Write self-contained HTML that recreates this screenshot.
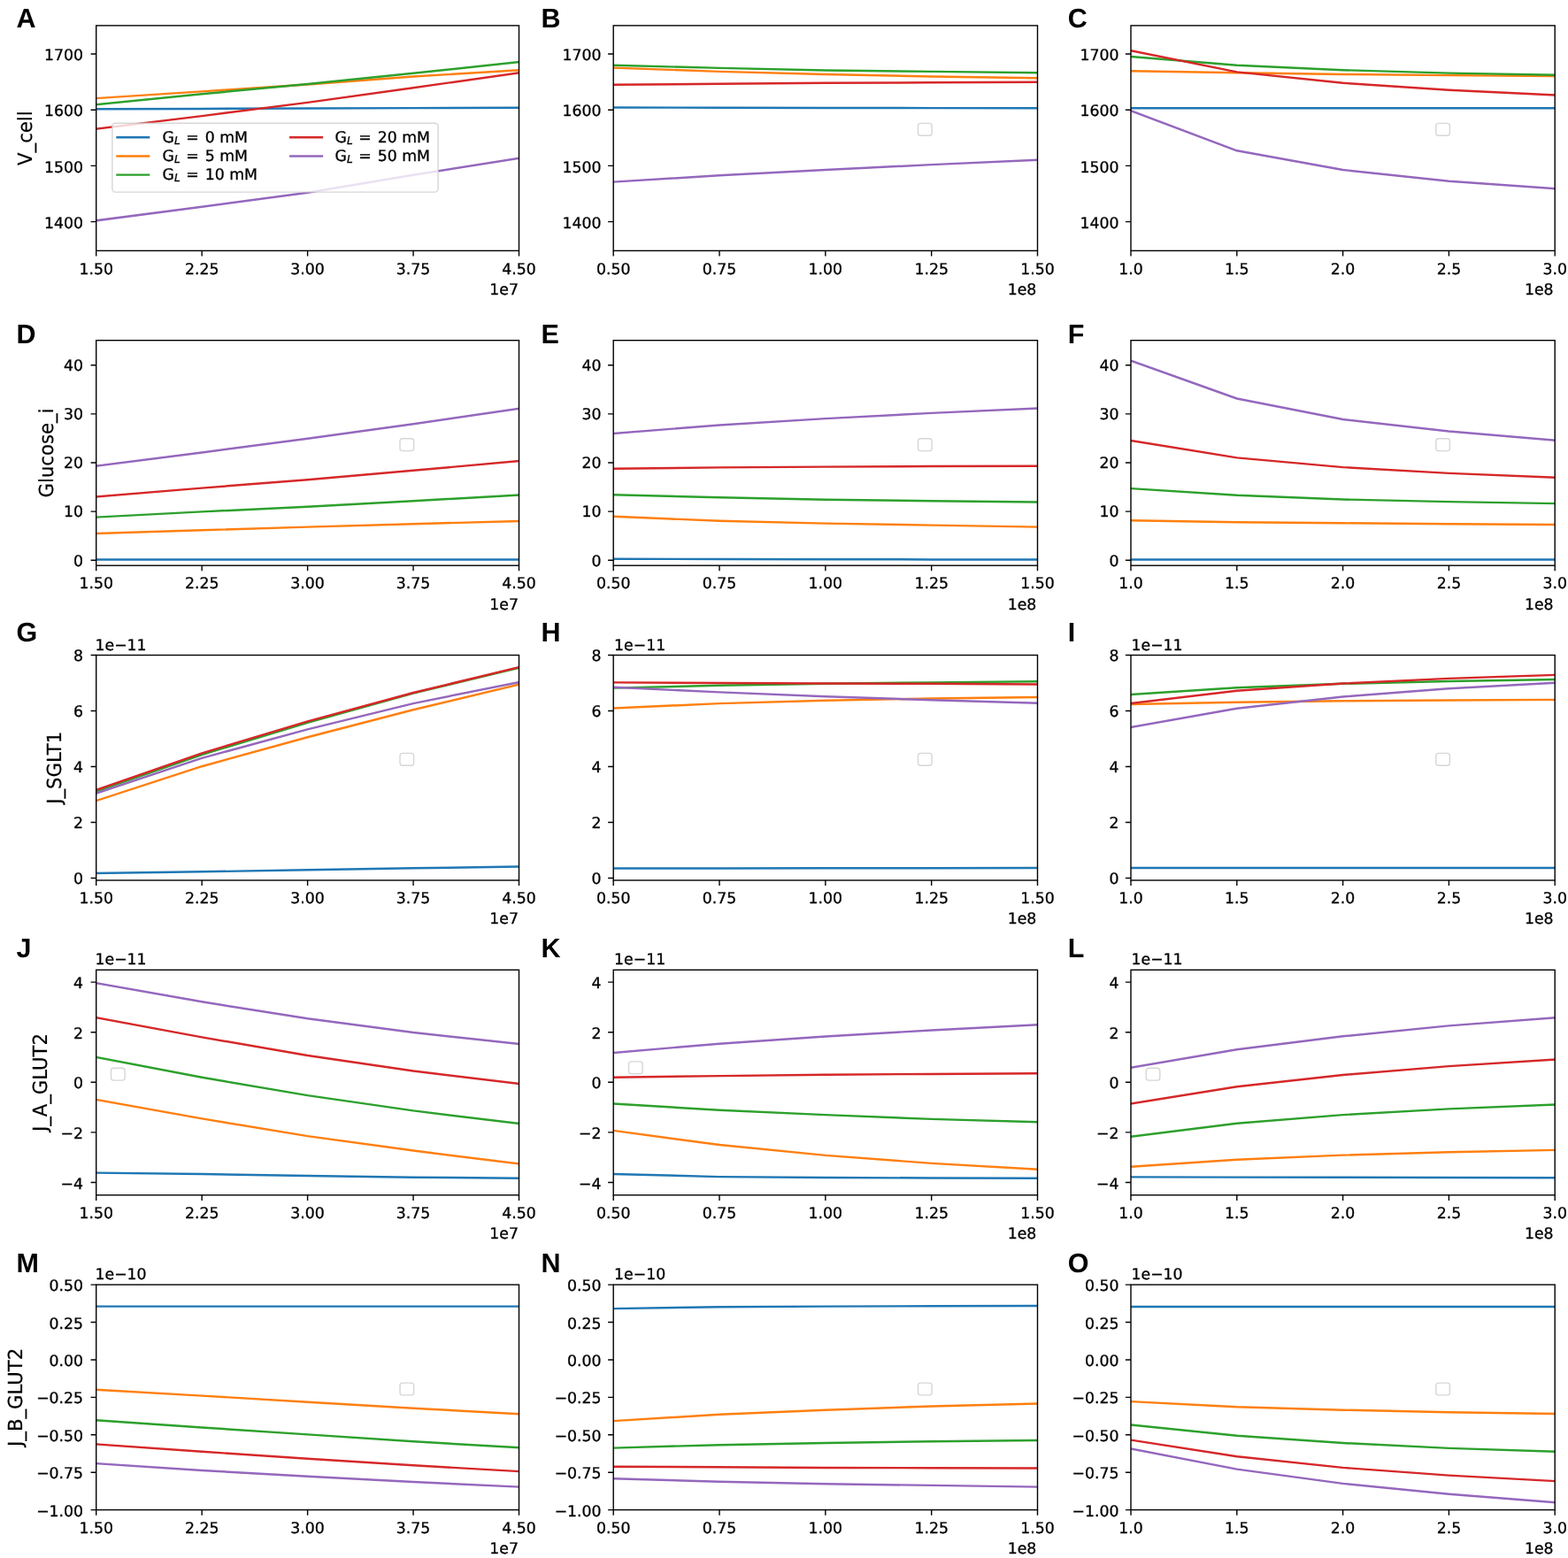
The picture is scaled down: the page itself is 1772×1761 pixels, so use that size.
<!DOCTYPE html>
<html><head><meta charset="utf-8"><title>Figure</title>
<style>
html,body{margin:0;padding:0;background:#fff;}
svg{display:block;}
text{font-family:"DejaVu Sans","Liberation Sans",sans-serif;fill:#000;text-rendering:geometricPrecision;}
.t{font-size:17.3px;stroke:#000;stroke-width:0.3px;}
.yl{font-size:21.2px;stroke:#000;stroke-width:0.2px;}
.lt{font-family:"Liberation Sans","DejaVu Sans",sans-serif;font-weight:bold;font-size:30.5px;}
</style></head><body>
<svg width="1772" height="1761" viewBox="0 0 1772 1761">
<rect x="0" y="0" width="1772" height="1761" fill="#ffffff"/>
<defs>
<clipPath id="cp00"><rect x="108.7" y="28.9" width="477.8" height="254.5"/></clipPath>
<clipPath id="cp01"><rect x="693.2" y="28.9" width="479.3" height="254.5"/></clipPath>
<clipPath id="cp02"><rect x="1278" y="28.9" width="479.2" height="254.5"/></clipPath>
<clipPath id="cp10"><rect x="108.7" y="384.7" width="477.8" height="254.5"/></clipPath>
<clipPath id="cp11"><rect x="693.2" y="384.7" width="479.3" height="254.5"/></clipPath>
<clipPath id="cp12"><rect x="1278" y="384.7" width="479.2" height="254.5"/></clipPath>
<clipPath id="cp20"><rect x="108.7" y="740.5" width="477.8" height="254.5"/></clipPath>
<clipPath id="cp21"><rect x="693.2" y="740.5" width="479.3" height="254.5"/></clipPath>
<clipPath id="cp22"><rect x="1278" y="740.5" width="479.2" height="254.5"/></clipPath>
<clipPath id="cp30"><rect x="108.7" y="1096.3" width="477.8" height="254.5"/></clipPath>
<clipPath id="cp31"><rect x="693.2" y="1096.3" width="479.3" height="254.5"/></clipPath>
<clipPath id="cp32"><rect x="1278" y="1096.3" width="479.2" height="254.5"/></clipPath>
<clipPath id="cp40"><rect x="108.7" y="1452.1" width="477.8" height="254.5"/></clipPath>
<clipPath id="cp41"><rect x="693.2" y="1452.1" width="479.3" height="254.5"/></clipPath>
<clipPath id="cp42"><rect x="1278" y="1452.1" width="479.2" height="254.5"/></clipPath>
</defs>
<g clip-path="url(#cp00)" fill="none" stroke-width="2.45" stroke-linecap="square" stroke-linejoin="round">
<polyline points="108.7,123.2 228.15,122.9 347.6,122.5 467.05,122.1 586.5,121.8" stroke="#1f77b4"/>
<polyline points="108.7,111.1 228.15,103.4 347.6,95.5 467.05,86.5 586.5,79.2" stroke="#ff7f0e"/>
<polyline points="108.7,118.1 228.15,106.3 347.6,95 467.05,82.8 586.5,70.1" stroke="#2ca02c"/>
<polyline points="108.7,145.8 228.15,131.1 347.6,115.9 467.05,99.2 586.5,82.3" stroke="#d62728"/>
<polyline points="108.7,249.3 228.15,233.8 347.6,217.7 467.05,197.7 586.5,178.8" stroke="#9467bd"/>
</g>
<rect x="108.7" y="28.9" width="477.8" height="254.5" fill="none" stroke="#000" stroke-width="1.4" stroke-linejoin="miter"/>
<path d="M108.7 283.4v6.1M228.15 283.4v6.1M347.6 283.4v6.1M467.05 283.4v6.1M586.5 283.4v6.1M108.7 250.6h-6.1M108.7 187.4h-6.1M108.7 124.2h-6.1M108.7 61h-6.1" stroke="#000" stroke-width="1.4" fill="none"/>
<text class="t" x="108.7" y="309.5" text-anchor="middle">1.50</text>
<text class="t" x="228.15" y="309.5" text-anchor="middle">2.25</text>
<text class="t" x="347.6" y="309.5" text-anchor="middle">3.00</text>
<text class="t" x="467.05" y="309.5" text-anchor="middle">3.75</text>
<text class="t" x="586.5" y="309.5" text-anchor="middle">4.50</text>
<text class="t" x="585.9" y="332.8" text-anchor="end">1e7</text>
<text class="t" x="94.1" y="257.7" text-anchor="end">1400</text>
<text class="t" x="94.1" y="194.5" text-anchor="end">1500</text>
<text class="t" x="94.1" y="131.3" text-anchor="end">1600</text>
<text class="t" x="94.1" y="68.1" text-anchor="end">1700</text>
<text class="lt" x="18.5" y="31.2">A</text>
<g clip-path="url(#cp01)" fill="none" stroke-width="2.45" stroke-linecap="square" stroke-linejoin="round">
<polyline points="693.2,121.5 813.03,121.7 932.85,121.9 1052.67,122.1 1172.5,122.3" stroke="#1f77b4"/>
<polyline points="693.2,76.6 813.03,80.9 932.85,84 1052.67,86.5 1172.5,88.2" stroke="#ff7f0e"/>
<polyline points="693.2,73.8 813.03,76.9 932.85,79.5 1052.67,80.9 1172.5,82.3" stroke="#2ca02c"/>
<polyline points="693.2,95.8 813.03,94.7 932.85,93.8 1052.67,93.3 1172.5,92.7" stroke="#d62728"/>
<polyline points="693.2,205.6 813.03,198.3 932.85,192 1052.67,186.1 1172.5,180.8" stroke="#9467bd"/>
</g>
<rect x="693.2" y="28.9" width="479.3" height="254.5" fill="none" stroke="#000" stroke-width="1.4" stroke-linejoin="miter"/>
<path d="M693.2 283.4v6.1M813.03 283.4v6.1M932.85 283.4v6.1M1052.67 283.4v6.1M1172.5 283.4v6.1M693.2 250.6h-6.1M693.2 187.4h-6.1M693.2 124.2h-6.1M693.2 61h-6.1" stroke="#000" stroke-width="1.4" fill="none"/>
<text class="t" x="693.2" y="309.5" text-anchor="middle">0.50</text>
<text class="t" x="813.03" y="309.5" text-anchor="middle">0.75</text>
<text class="t" x="932.85" y="309.5" text-anchor="middle">1.00</text>
<text class="t" x="1052.67" y="309.5" text-anchor="middle">1.25</text>
<text class="t" x="1172.5" y="309.5" text-anchor="middle">1.50</text>
<text class="t" x="1171.3" y="332.8" text-anchor="end">1e8</text>
<text class="t" x="679.6" y="257.7" text-anchor="end">1400</text>
<text class="t" x="679.6" y="194.5" text-anchor="end">1500</text>
<text class="t" x="679.6" y="131.3" text-anchor="end">1600</text>
<text class="t" x="679.6" y="68.1" text-anchor="end">1700</text>
<rect x="1037.5" y="139.4" width="15.6" height="13.8" rx="2.9" fill="#fff" fill-opacity="0.8" stroke="#cccccc" stroke-opacity="0.8" stroke-width="1.4"/>
<text class="lt" x="611.5" y="31.2">B</text>
<g clip-path="url(#cp02)" fill="none" stroke-width="2.45" stroke-linecap="square" stroke-linejoin="round">
<polyline points="1278,122.3 1397.8,122.3 1517.6,122.3 1637.4,122.3 1757.2,122.3" stroke="#1f77b4"/>
<polyline points="1278,80.3 1397.8,82.3 1517.6,84 1637.4,85.1 1757.2,85.9" stroke="#ff7f0e"/>
<polyline points="1278,63.9 1397.8,73.8 1517.6,79.2 1637.4,82.6 1757.2,84.8" stroke="#2ca02c"/>
<polyline points="1278,57.2 1397.8,81.4 1517.6,93.8 1637.4,101.7 1757.2,107.4" stroke="#d62728"/>
<polyline points="1278,125.2 1397.8,170.3 1517.6,192 1637.4,204.7 1757.2,213.2" stroke="#9467bd"/>
</g>
<rect x="1278" y="28.9" width="479.2" height="254.5" fill="none" stroke="#000" stroke-width="1.4" stroke-linejoin="miter"/>
<path d="M1278 283.4v6.1M1397.8 283.4v6.1M1517.6 283.4v6.1M1637.4 283.4v6.1M1757.2 283.4v6.1M1278 250.6h-6.1M1278 187.4h-6.1M1278 124.2h-6.1M1278 61h-6.1" stroke="#000" stroke-width="1.4" fill="none"/>
<text class="t" x="1278" y="309.5" text-anchor="middle">1.0</text>
<text class="t" x="1397.8" y="309.5" text-anchor="middle">1.5</text>
<text class="t" x="1517.6" y="309.5" text-anchor="middle">2.0</text>
<text class="t" x="1637.4" y="309.5" text-anchor="middle">2.5</text>
<text class="t" x="1757.2" y="309.5" text-anchor="middle">3.0</text>
<text class="t" x="1755.6" y="332.8" text-anchor="end">1e8</text>
<text class="t" x="1264.4" y="257.7" text-anchor="end">1400</text>
<text class="t" x="1264.4" y="194.5" text-anchor="end">1500</text>
<text class="t" x="1264.4" y="131.3" text-anchor="end">1600</text>
<text class="t" x="1264.4" y="68.1" text-anchor="end">1700</text>
<rect x="1622.8" y="139.4" width="15.6" height="13.8" rx="2.9" fill="#fff" fill-opacity="0.8" stroke="#cccccc" stroke-opacity="0.8" stroke-width="1.4"/>
<text class="lt" x="1206.7" y="31.2">C</text>
<text class="yl" transform="translate(35.6 156.15) rotate(-90) scale(1 1.04)" text-anchor="middle">V_cell</text>
<g clip-path="url(#cp10)" fill="none" stroke-width="2.45" stroke-linecap="square" stroke-linejoin="round">
<polyline points="108.7,632.5 228.15,632.5 347.6,632.5 467.05,632.5 586.5,632.5" stroke="#1f77b4"/>
<polyline points="108.7,602.9 228.15,599.2 347.6,595.6 467.05,592.2 586.5,589.1" stroke="#ff7f0e"/>
<polyline points="108.7,584.6 228.15,578.4 347.6,572.7 467.05,566.2 586.5,559.5" stroke="#2ca02c"/>
<polyline points="108.7,561.4 228.15,551.6 347.6,542.2 467.05,531.8 586.5,521.1" stroke="#d62728"/>
<polyline points="108.7,526.7 228.15,511.5 347.6,495.7 467.05,479.3 586.5,461.8" stroke="#9467bd"/>
</g>
<rect x="108.7" y="384.7" width="477.8" height="254.5" fill="none" stroke="#000" stroke-width="1.4" stroke-linejoin="miter"/>
<path d="M108.7 639.2v6.1M228.15 639.2v6.1M347.6 639.2v6.1M467.05 639.2v6.1M586.5 639.2v6.1M108.7 633.2h-6.1M108.7 578.1h-6.1M108.7 523h-6.1M108.7 467.9h-6.1M108.7 412.8h-6.1" stroke="#000" stroke-width="1.4" fill="none"/>
<text class="t" x="108.7" y="665.3" text-anchor="middle">1.50</text>
<text class="t" x="228.15" y="665.3" text-anchor="middle">2.25</text>
<text class="t" x="347.6" y="665.3" text-anchor="middle">3.00</text>
<text class="t" x="467.05" y="665.3" text-anchor="middle">3.75</text>
<text class="t" x="586.5" y="665.3" text-anchor="middle">4.50</text>
<text class="t" x="585.9" y="688.6" text-anchor="end">1e7</text>
<text class="t" x="94.1" y="639.5" text-anchor="end">0</text>
<text class="t" x="94.1" y="584.4" text-anchor="end">10</text>
<text class="t" x="94.1" y="529.3" text-anchor="end">20</text>
<text class="t" x="94.1" y="474.2" text-anchor="end">30</text>
<text class="t" x="94.1" y="419.1" text-anchor="end">40</text>
<rect x="452" y="495.8" width="15.6" height="13.8" rx="2.9" fill="#fff" fill-opacity="0.8" stroke="#cccccc" stroke-opacity="0.8" stroke-width="1.4"/>
<text class="lt" x="18.5" y="387.7">D</text>
<g clip-path="url(#cp11)" fill="none" stroke-width="2.45" stroke-linecap="square" stroke-linejoin="round">
<polyline points="693.2,631.7 813.03,632 932.85,632.2 1052.67,632.4 1172.5,632.5" stroke="#1f77b4"/>
<polyline points="693.2,583.7 813.03,588.8 932.85,591.6 1052.67,593.6 1172.5,595.6" stroke="#ff7f0e"/>
<polyline points="693.2,559.2 813.03,562.3 932.85,564.8 1052.67,566.2 1172.5,567.4" stroke="#2ca02c"/>
<polyline points="693.2,529.8 813.03,528.4 932.85,527.6 1052.67,527 1172.5,526.7" stroke="#d62728"/>
<polyline points="693.2,490 813.03,480.5 932.85,473.1 1052.67,466.9 1172.5,461.5" stroke="#9467bd"/>
</g>
<rect x="693.2" y="384.7" width="479.3" height="254.5" fill="none" stroke="#000" stroke-width="1.4" stroke-linejoin="miter"/>
<path d="M693.2 639.2v6.1M813.03 639.2v6.1M932.85 639.2v6.1M1052.67 639.2v6.1M1172.5 639.2v6.1M693.2 633.2h-6.1M693.2 578.1h-6.1M693.2 523h-6.1M693.2 467.9h-6.1M693.2 412.8h-6.1" stroke="#000" stroke-width="1.4" fill="none"/>
<text class="t" x="693.2" y="665.3" text-anchor="middle">0.50</text>
<text class="t" x="813.03" y="665.3" text-anchor="middle">0.75</text>
<text class="t" x="932.85" y="665.3" text-anchor="middle">1.00</text>
<text class="t" x="1052.67" y="665.3" text-anchor="middle">1.25</text>
<text class="t" x="1172.5" y="665.3" text-anchor="middle">1.50</text>
<text class="t" x="1171.3" y="688.6" text-anchor="end">1e8</text>
<text class="t" x="679.6" y="639.5" text-anchor="end">0</text>
<text class="t" x="679.6" y="584.4" text-anchor="end">10</text>
<text class="t" x="679.6" y="529.3" text-anchor="end">20</text>
<text class="t" x="679.6" y="474.2" text-anchor="end">30</text>
<text class="t" x="679.6" y="419.1" text-anchor="end">40</text>
<rect x="1037.5" y="495.8" width="15.6" height="13.8" rx="2.9" fill="#fff" fill-opacity="0.8" stroke="#cccccc" stroke-opacity="0.8" stroke-width="1.4"/>
<text class="lt" x="611.5" y="387.7">E</text>
<g clip-path="url(#cp12)" fill="none" stroke-width="2.45" stroke-linecap="square" stroke-linejoin="round">
<polyline points="1278,632.5 1397.8,632.5 1517.6,632.5 1637.4,632.5 1757.2,632.5" stroke="#1f77b4"/>
<polyline points="1278,588.2 1397.8,590.2 1517.6,591.3 1637.4,592.2 1757.2,593" stroke="#ff7f0e"/>
<polyline points="1278,552.1 1397.8,559.7 1517.6,564.5 1637.4,567.1 1757.2,569.1" stroke="#2ca02c"/>
<polyline points="1278,497.9 1397.8,517.4 1517.6,528.1 1637.4,534.9 1757.2,539.7" stroke="#d62728"/>
<polyline points="1278,407.7 1397.8,450.5 1517.6,474 1637.4,487.5 1757.2,497.7" stroke="#9467bd"/>
</g>
<rect x="1278" y="384.7" width="479.2" height="254.5" fill="none" stroke="#000" stroke-width="1.4" stroke-linejoin="miter"/>
<path d="M1278 639.2v6.1M1397.8 639.2v6.1M1517.6 639.2v6.1M1637.4 639.2v6.1M1757.2 639.2v6.1M1278 633.2h-6.1M1278 578.1h-6.1M1278 523h-6.1M1278 467.9h-6.1M1278 412.8h-6.1" stroke="#000" stroke-width="1.4" fill="none"/>
<text class="t" x="1278" y="665.3" text-anchor="middle">1.0</text>
<text class="t" x="1397.8" y="665.3" text-anchor="middle">1.5</text>
<text class="t" x="1517.6" y="665.3" text-anchor="middle">2.0</text>
<text class="t" x="1637.4" y="665.3" text-anchor="middle">2.5</text>
<text class="t" x="1757.2" y="665.3" text-anchor="middle">3.0</text>
<text class="t" x="1755.6" y="688.6" text-anchor="end">1e8</text>
<text class="t" x="1264.4" y="639.5" text-anchor="end">0</text>
<text class="t" x="1264.4" y="584.4" text-anchor="end">10</text>
<text class="t" x="1264.4" y="529.3" text-anchor="end">20</text>
<text class="t" x="1264.4" y="474.2" text-anchor="end">30</text>
<text class="t" x="1264.4" y="419.1" text-anchor="end">40</text>
<rect x="1622.8" y="495.8" width="15.6" height="13.8" rx="2.9" fill="#fff" fill-opacity="0.8" stroke="#cccccc" stroke-opacity="0.8" stroke-width="1.4"/>
<text class="lt" x="1206.7" y="387.7">F</text>
<text class="yl" transform="translate(60 511.95) rotate(-90) scale(1 1.04)" text-anchor="middle">Glucose_i</text>
<g clip-path="url(#cp20)" fill="none" stroke-width="2.45" stroke-linecap="square" stroke-linejoin="round">
<polyline points="108.7,987 228.15,985.3 347.6,983.3 467.05,981.3 586.5,979.6" stroke="#1f77b4"/>
<polyline points="108.7,905.1 228.15,866.2 347.6,833.2 467.05,802.2 586.5,773.7" stroke="#ff7f0e"/>
<polyline points="108.7,894.4 228.15,853 347.6,816.8 467.05,783.5 586.5,754.8" stroke="#2ca02c"/>
<polyline points="108.7,893 228.15,851.3 347.6,815.4 467.05,783 586.5,754.2" stroke="#d62728"/>
<polyline points="108.7,896.7 228.15,856.9 347.6,824.4 467.05,795.1 586.5,771.1" stroke="#9467bd"/>
</g>
<rect x="108.7" y="740.5" width="477.8" height="254.5" fill="none" stroke="#000" stroke-width="1.4" stroke-linejoin="miter"/>
<path d="M108.7 995v6.1M228.15 995v6.1M347.6 995v6.1M467.05 995v6.1M586.5 995v6.1M108.7 992.5h-6.1M108.7 929.5h-6.1M108.7 866.5h-6.1M108.7 803.5h-6.1M108.7 740.5h-6.1" stroke="#000" stroke-width="1.4" fill="none"/>
<text class="t" x="108.7" y="1021.1" text-anchor="middle">1.50</text>
<text class="t" x="228.15" y="1021.1" text-anchor="middle">2.25</text>
<text class="t" x="347.6" y="1021.1" text-anchor="middle">3.00</text>
<text class="t" x="467.05" y="1021.1" text-anchor="middle">3.75</text>
<text class="t" x="586.5" y="1021.1" text-anchor="middle">4.50</text>
<text class="t" x="585.9" y="1044.4" text-anchor="end">1e7</text>
<text class="t" x="94.1" y="999.3" text-anchor="end">0</text>
<text class="t" x="94.1" y="936.3" text-anchor="end">2</text>
<text class="t" x="94.1" y="873.3" text-anchor="end">4</text>
<text class="t" x="94.1" y="810.3" text-anchor="end">6</text>
<text class="t" x="94.1" y="747.3" text-anchor="end">8</text>
<text class="t" x="107.5" y="734.5">1e−11</text>
<rect x="452" y="851.4" width="15.6" height="13.8" rx="2.9" fill="#fff" fill-opacity="0.8" stroke="#cccccc" stroke-opacity="0.8" stroke-width="1.4"/>
<text class="lt" x="18.5" y="724.8">G</text>
<g clip-path="url(#cp21)" fill="none" stroke-width="2.45" stroke-linecap="square" stroke-linejoin="round">
<polyline points="693.2,981.5 813.03,981.4 932.85,981.3 1052.67,981.2 1172.5,981" stroke="#1f77b4"/>
<polyline points="693.2,800.5 813.03,795.1 932.85,791.7 1052.67,789.5 1172.5,788" stroke="#ff7f0e"/>
<polyline points="693.2,777.6 813.03,774.8 932.85,772.8 1052.67,771.4 1172.5,770.3" stroke="#2ca02c"/>
<polyline points="693.2,771.4 813.03,772 932.85,772.5 1052.67,772.8 1172.5,773.4" stroke="#d62728"/>
<polyline points="693.2,776.8 813.03,782.4 932.85,787.2 1052.67,791.2 1172.5,794.8" stroke="#9467bd"/>
</g>
<rect x="693.2" y="740.5" width="479.3" height="254.5" fill="none" stroke="#000" stroke-width="1.4" stroke-linejoin="miter"/>
<path d="M693.2 995v6.1M813.03 995v6.1M932.85 995v6.1M1052.67 995v6.1M1172.5 995v6.1M693.2 992.5h-6.1M693.2 929.5h-6.1M693.2 866.5h-6.1M693.2 803.5h-6.1M693.2 740.5h-6.1" stroke="#000" stroke-width="1.4" fill="none"/>
<text class="t" x="693.2" y="1021.1" text-anchor="middle">0.50</text>
<text class="t" x="813.03" y="1021.1" text-anchor="middle">0.75</text>
<text class="t" x="932.85" y="1021.1" text-anchor="middle">1.00</text>
<text class="t" x="1052.67" y="1021.1" text-anchor="middle">1.25</text>
<text class="t" x="1172.5" y="1021.1" text-anchor="middle">1.50</text>
<text class="t" x="1171.3" y="1044.4" text-anchor="end">1e8</text>
<text class="t" x="679.6" y="999.3" text-anchor="end">0</text>
<text class="t" x="679.6" y="936.3" text-anchor="end">2</text>
<text class="t" x="679.6" y="873.3" text-anchor="end">4</text>
<text class="t" x="679.6" y="810.3" text-anchor="end">6</text>
<text class="t" x="679.6" y="747.3" text-anchor="end">8</text>
<text class="t" x="694.1" y="734.5">1e−11</text>
<rect x="1037.5" y="851.4" width="15.6" height="13.8" rx="2.9" fill="#fff" fill-opacity="0.8" stroke="#cccccc" stroke-opacity="0.8" stroke-width="1.4"/>
<text class="lt" x="611.5" y="724.8">H</text>
<g clip-path="url(#cp22)" fill="none" stroke-width="2.45" stroke-linecap="square" stroke-linejoin="round">
<polyline points="1278,981 1397.8,981 1517.6,981 1637.4,981 1757.2,981" stroke="#1f77b4"/>
<polyline points="1278,795.9 1397.8,793.7 1517.6,792.3 1637.4,791.4 1757.2,790.9" stroke="#ff7f0e"/>
<polyline points="1278,784.9 1397.8,777.3 1517.6,772.8 1637.4,770 1757.2,768" stroke="#2ca02c"/>
<polyline points="1278,795.1 1397.8,780.7 1517.6,772.5 1637.4,766.9 1757.2,762.9" stroke="#d62728"/>
<polyline points="1278,821.9 1397.8,800.7 1517.6,787.5 1637.4,778.2 1757.2,771.7" stroke="#9467bd"/>
</g>
<rect x="1278" y="740.5" width="479.2" height="254.5" fill="none" stroke="#000" stroke-width="1.4" stroke-linejoin="miter"/>
<path d="M1278 995v6.1M1397.8 995v6.1M1517.6 995v6.1M1637.4 995v6.1M1757.2 995v6.1M1278 992.5h-6.1M1278 929.5h-6.1M1278 866.5h-6.1M1278 803.5h-6.1M1278 740.5h-6.1" stroke="#000" stroke-width="1.4" fill="none"/>
<text class="t" x="1278" y="1021.1" text-anchor="middle">1.0</text>
<text class="t" x="1397.8" y="1021.1" text-anchor="middle">1.5</text>
<text class="t" x="1517.6" y="1021.1" text-anchor="middle">2.0</text>
<text class="t" x="1637.4" y="1021.1" text-anchor="middle">2.5</text>
<text class="t" x="1757.2" y="1021.1" text-anchor="middle">3.0</text>
<text class="t" x="1755.6" y="1044.4" text-anchor="end">1e8</text>
<text class="t" x="1264.4" y="999.3" text-anchor="end">0</text>
<text class="t" x="1264.4" y="936.3" text-anchor="end">2</text>
<text class="t" x="1264.4" y="873.3" text-anchor="end">4</text>
<text class="t" x="1264.4" y="810.3" text-anchor="end">6</text>
<text class="t" x="1264.4" y="747.3" text-anchor="end">8</text>
<text class="t" x="1278.5" y="734.5">1e−11</text>
<rect x="1622.8" y="851.4" width="15.6" height="13.8" rx="2.9" fill="#fff" fill-opacity="0.8" stroke="#cccccc" stroke-opacity="0.8" stroke-width="1.4"/>
<text class="lt" x="1206.7" y="724.8">I</text>
<text class="yl" transform="translate(69 867.75) rotate(-90) scale(1 1.04)" text-anchor="middle">J_SGLT1</text>
<g clip-path="url(#cp30)" fill="none" stroke-width="2.45" stroke-linecap="square" stroke-linejoin="round">
<polyline points="108.7,1325.6 228.15,1327 347.6,1329 467.05,1330.7 586.5,1331.8" stroke="#1f77b4"/>
<polyline points="108.7,1242.9 228.15,1264.4 347.6,1284.1 467.05,1300.5 586.5,1315.5" stroke="#ff7f0e"/>
<polyline points="108.7,1195 228.15,1217.8 347.6,1238.1 467.05,1255.4 586.5,1270" stroke="#2ca02c"/>
<polyline points="108.7,1150.1 228.15,1172.4 347.6,1193 467.05,1210.5 586.5,1224.9" stroke="#d62728"/>
<polyline points="108.7,1111.2 228.15,1132.3 347.6,1151.2 467.05,1167 586.5,1180" stroke="#9467bd"/>
</g>
<rect x="108.7" y="1096.3" width="477.8" height="254.5" fill="none" stroke="#000" stroke-width="1.4" stroke-linejoin="miter"/>
<path d="M108.7 1350.8v6.1M228.15 1350.8v6.1M347.6 1350.8v6.1M467.05 1350.8v6.1M586.5 1350.8v6.1M108.7 1336.5h-6.1M108.7 1279.9h-6.1M108.7 1223.3h-6.1M108.7 1166.7h-6.1M108.7 1110.1h-6.1" stroke="#000" stroke-width="1.4" fill="none"/>
<text class="t" x="108.7" y="1376.9" text-anchor="middle">1.50</text>
<text class="t" x="228.15" y="1376.9" text-anchor="middle">2.25</text>
<text class="t" x="347.6" y="1376.9" text-anchor="middle">3.00</text>
<text class="t" x="467.05" y="1376.9" text-anchor="middle">3.75</text>
<text class="t" x="586.5" y="1376.9" text-anchor="middle">4.50</text>
<text class="t" x="585.9" y="1400.2" text-anchor="end">1e7</text>
<text class="t" x="94.1" y="1343.6" text-anchor="end">−4</text>
<text class="t" x="94.1" y="1287" text-anchor="end">−2</text>
<text class="t" x="94.1" y="1230.4" text-anchor="end">0</text>
<text class="t" x="94.1" y="1173.8" text-anchor="end">2</text>
<text class="t" x="94.1" y="1117.2" text-anchor="end">4</text>
<text class="t" x="107.5" y="1090.3">1e−11</text>
<rect x="125.5" y="1207.3" width="15.6" height="13.8" rx="2.9" fill="#fff" fill-opacity="0.8" stroke="#cccccc" stroke-opacity="0.8" stroke-width="1.4"/>
<text class="lt" x="18.5" y="1081.8">J</text>
<g clip-path="url(#cp31)" fill="none" stroke-width="2.45" stroke-linecap="square" stroke-linejoin="round">
<polyline points="693.2,1327 813.03,1330.1 932.85,1331 1052.67,1331.5 1172.5,1331.8" stroke="#1f77b4"/>
<polyline points="693.2,1277.9 813.03,1294 932.85,1305.9 1052.67,1314.9 1172.5,1321.7" stroke="#ff7f0e"/>
<polyline points="693.2,1247.5 813.03,1254.8 932.85,1260.1 1052.67,1264.9 1172.5,1268.3" stroke="#2ca02c"/>
<polyline points="693.2,1217.8 813.03,1216.1 932.85,1214.7 1052.67,1213.9 1172.5,1213.3" stroke="#d62728"/>
<polyline points="693.2,1189.9 813.03,1179.7 932.85,1171.5 1052.67,1164.5 1172.5,1158.3" stroke="#9467bd"/>
</g>
<rect x="693.2" y="1096.3" width="479.3" height="254.5" fill="none" stroke="#000" stroke-width="1.4" stroke-linejoin="miter"/>
<path d="M693.2 1350.8v6.1M813.03 1350.8v6.1M932.85 1350.8v6.1M1052.67 1350.8v6.1M1172.5 1350.8v6.1M693.2 1336.5h-6.1M693.2 1279.9h-6.1M693.2 1223.3h-6.1M693.2 1166.7h-6.1M693.2 1110.1h-6.1" stroke="#000" stroke-width="1.4" fill="none"/>
<text class="t" x="693.2" y="1376.9" text-anchor="middle">0.50</text>
<text class="t" x="813.03" y="1376.9" text-anchor="middle">0.75</text>
<text class="t" x="932.85" y="1376.9" text-anchor="middle">1.00</text>
<text class="t" x="1052.67" y="1376.9" text-anchor="middle">1.25</text>
<text class="t" x="1172.5" y="1376.9" text-anchor="middle">1.50</text>
<text class="t" x="1171.3" y="1400.2" text-anchor="end">1e8</text>
<text class="t" x="679.6" y="1343.6" text-anchor="end">−4</text>
<text class="t" x="679.6" y="1287" text-anchor="end">−2</text>
<text class="t" x="679.6" y="1230.4" text-anchor="end">0</text>
<text class="t" x="679.6" y="1173.8" text-anchor="end">2</text>
<text class="t" x="679.6" y="1117.2" text-anchor="end">4</text>
<text class="t" x="694.1" y="1090.3">1e−11</text>
<rect x="710.5" y="1199.9" width="15.6" height="13.8" rx="2.9" fill="#fff" fill-opacity="0.8" stroke="#cccccc" stroke-opacity="0.8" stroke-width="1.4"/>
<text class="lt" x="611.5" y="1081.8">K</text>
<g clip-path="url(#cp32)" fill="none" stroke-width="2.45" stroke-linecap="square" stroke-linejoin="round">
<polyline points="1278,1330.4 1397.8,1330.6 1517.6,1330.8 1637.4,1331 1757.2,1331.3" stroke="#1f77b4"/>
<polyline points="1278,1318.8 1397.8,1310.7 1517.6,1305.6 1637.4,1302.2 1757.2,1299.9" stroke="#ff7f0e"/>
<polyline points="1278,1284.7 1397.8,1269.7 1517.6,1260.1 1637.4,1253.4 1757.2,1248.6" stroke="#2ca02c"/>
<polyline points="1278,1247.5 1397.8,1228.3 1517.6,1215 1637.4,1205.1 1757.2,1197.5" stroke="#d62728"/>
<polyline points="1278,1206.8 1397.8,1186.2 1517.6,1171.3 1637.4,1159.4 1757.2,1150.4" stroke="#9467bd"/>
</g>
<rect x="1278" y="1096.3" width="479.2" height="254.5" fill="none" stroke="#000" stroke-width="1.4" stroke-linejoin="miter"/>
<path d="M1278 1350.8v6.1M1397.8 1350.8v6.1M1517.6 1350.8v6.1M1637.4 1350.8v6.1M1757.2 1350.8v6.1M1278 1336.5h-6.1M1278 1279.9h-6.1M1278 1223.3h-6.1M1278 1166.7h-6.1M1278 1110.1h-6.1" stroke="#000" stroke-width="1.4" fill="none"/>
<text class="t" x="1278" y="1376.9" text-anchor="middle">1.0</text>
<text class="t" x="1397.8" y="1376.9" text-anchor="middle">1.5</text>
<text class="t" x="1517.6" y="1376.9" text-anchor="middle">2.0</text>
<text class="t" x="1637.4" y="1376.9" text-anchor="middle">2.5</text>
<text class="t" x="1757.2" y="1376.9" text-anchor="middle">3.0</text>
<text class="t" x="1755.6" y="1400.2" text-anchor="end">1e8</text>
<text class="t" x="1264.4" y="1343.6" text-anchor="end">−4</text>
<text class="t" x="1264.4" y="1287" text-anchor="end">−2</text>
<text class="t" x="1264.4" y="1230.4" text-anchor="end">0</text>
<text class="t" x="1264.4" y="1173.8" text-anchor="end">2</text>
<text class="t" x="1264.4" y="1117.2" text-anchor="end">4</text>
<text class="t" x="1278.5" y="1090.3">1e−11</text>
<rect x="1295.2" y="1207.3" width="15.6" height="13.8" rx="2.9" fill="#fff" fill-opacity="0.8" stroke="#cccccc" stroke-opacity="0.8" stroke-width="1.4"/>
<text class="lt" x="1206.7" y="1081.8">L</text>
<text class="yl" transform="translate(53.4 1223.55) rotate(-90) scale(1 1.04)" text-anchor="middle">J_A_GLUT2</text>
<g clip-path="url(#cp40)" fill="none" stroke-width="2.45" stroke-linecap="square" stroke-linejoin="round">
<polyline points="108.7,1476.6 228.15,1476.6 347.6,1476.6 467.05,1476.6 586.5,1476.6" stroke="#1f77b4"/>
<polyline points="108.7,1570.8 228.15,1577.6 347.6,1584.7 467.05,1591.7 586.5,1598.2" stroke="#ff7f0e"/>
<polyline points="108.7,1605.3 228.15,1613.5 347.6,1621.4 467.05,1629.3 586.5,1636.3" stroke="#2ca02c"/>
<polyline points="108.7,1632.4 228.15,1640.8 347.6,1648.7 467.05,1656.3 586.5,1663.1" stroke="#d62728"/>
<polyline points="108.7,1654.1 228.15,1662 347.6,1668.8 467.05,1675 586.5,1680.6" stroke="#9467bd"/>
</g>
<rect x="108.7" y="1452.1" width="477.8" height="254.5" fill="none" stroke="#000" stroke-width="1.4" stroke-linejoin="miter"/>
<path d="M108.7 1706.6v6.1M228.15 1706.6v6.1M347.6 1706.6v6.1M467.05 1706.6v6.1M586.5 1706.6v6.1M108.7 1706.6h-6.1M108.7 1664.18h-6.1M108.7 1621.77h-6.1M108.7 1579.35h-6.1M108.7 1536.93h-6.1M108.7 1494.52h-6.1M108.7 1452.1h-6.1" stroke="#000" stroke-width="1.4" fill="none"/>
<text class="t" x="108.7" y="1732.7" text-anchor="middle">1.50</text>
<text class="t" x="228.15" y="1732.7" text-anchor="middle">2.25</text>
<text class="t" x="347.6" y="1732.7" text-anchor="middle">3.00</text>
<text class="t" x="467.05" y="1732.7" text-anchor="middle">3.75</text>
<text class="t" x="586.5" y="1732.7" text-anchor="middle">4.50</text>
<text class="t" x="585.9" y="1756" text-anchor="end">1e7</text>
<text class="t" x="94.1" y="1713.65" text-anchor="end">−1.00</text>
<text class="t" x="94.1" y="1671.23" text-anchor="end">−0.75</text>
<text class="t" x="94.1" y="1628.82" text-anchor="end">−0.50</text>
<text class="t" x="94.1" y="1586.4" text-anchor="end">−0.25</text>
<text class="t" x="94.1" y="1543.98" text-anchor="end">0.00</text>
<text class="t" x="94.1" y="1501.57" text-anchor="end">0.25</text>
<text class="t" x="94.1" y="1459.15" text-anchor="end">0.50</text>
<text class="t" x="107.5" y="1446.1">1e−10</text>
<rect x="452" y="1563.1" width="15.6" height="13.8" rx="2.9" fill="#fff" fill-opacity="0.8" stroke="#cccccc" stroke-opacity="0.8" stroke-width="1.4"/>
<text class="lt" x="18.5" y="1438">M</text>
<g clip-path="url(#cp41)" fill="none" stroke-width="2.45" stroke-linecap="square" stroke-linejoin="round">
<polyline points="693.2,1479.1 813.03,1477.2 932.85,1476.6 1052.67,1476.3 1172.5,1476" stroke="#1f77b4"/>
<polyline points="693.2,1606.1 813.03,1598.8 932.85,1593.7 1052.67,1589.5 1172.5,1586.6" stroke="#ff7f0e"/>
<polyline points="693.2,1636.6 813.03,1633.2 932.85,1631 1052.67,1629.3 1172.5,1628.1" stroke="#2ca02c"/>
<polyline points="693.2,1657.8 813.03,1658.3 932.85,1658.9 1052.67,1659.2 1172.5,1659.5" stroke="#d62728"/>
<polyline points="693.2,1671.3 813.03,1674.7 932.85,1677.2 1052.67,1678.9 1172.5,1680.6" stroke="#9467bd"/>
</g>
<rect x="693.2" y="1452.1" width="479.3" height="254.5" fill="none" stroke="#000" stroke-width="1.4" stroke-linejoin="miter"/>
<path d="M693.2 1706.6v6.1M813.03 1706.6v6.1M932.85 1706.6v6.1M1052.67 1706.6v6.1M1172.5 1706.6v6.1M693.2 1706.6h-6.1M693.2 1664.18h-6.1M693.2 1621.77h-6.1M693.2 1579.35h-6.1M693.2 1536.93h-6.1M693.2 1494.52h-6.1M693.2 1452.1h-6.1" stroke="#000" stroke-width="1.4" fill="none"/>
<text class="t" x="693.2" y="1732.7" text-anchor="middle">0.50</text>
<text class="t" x="813.03" y="1732.7" text-anchor="middle">0.75</text>
<text class="t" x="932.85" y="1732.7" text-anchor="middle">1.00</text>
<text class="t" x="1052.67" y="1732.7" text-anchor="middle">1.25</text>
<text class="t" x="1172.5" y="1732.7" text-anchor="middle">1.50</text>
<text class="t" x="1171.3" y="1756" text-anchor="end">1e8</text>
<text class="t" x="679.6" y="1713.65" text-anchor="end">−1.00</text>
<text class="t" x="679.6" y="1671.23" text-anchor="end">−0.75</text>
<text class="t" x="679.6" y="1628.82" text-anchor="end">−0.50</text>
<text class="t" x="679.6" y="1586.4" text-anchor="end">−0.25</text>
<text class="t" x="679.6" y="1543.98" text-anchor="end">0.00</text>
<text class="t" x="679.6" y="1501.57" text-anchor="end">0.25</text>
<text class="t" x="679.6" y="1459.15" text-anchor="end">0.50</text>
<text class="t" x="694.1" y="1446.1">1e−10</text>
<rect x="1037.5" y="1563.1" width="15.6" height="13.8" rx="2.9" fill="#fff" fill-opacity="0.8" stroke="#cccccc" stroke-opacity="0.8" stroke-width="1.4"/>
<text class="lt" x="611.5" y="1438">N</text>
<g clip-path="url(#cp42)" fill="none" stroke-width="2.45" stroke-linecap="square" stroke-linejoin="round">
<polyline points="1278,1476.9 1397.8,1476.9 1517.6,1476.9 1637.4,1476.9 1757.2,1476.9" stroke="#1f77b4"/>
<polyline points="1278,1584.1 1397.8,1590.3 1517.6,1593.7 1637.4,1596.2 1757.2,1597.9" stroke="#ff7f0e"/>
<polyline points="1278,1610.4 1397.8,1622.8 1517.6,1631 1637.4,1636.9 1757.2,1640.8" stroke="#2ca02c"/>
<polyline points="1278,1627.6 1397.8,1646.2 1517.6,1658.9 1637.4,1667.6 1757.2,1674.1" stroke="#d62728"/>
<polyline points="1278,1637.4 1397.8,1660.6 1517.6,1676.9 1637.4,1688.8 1757.2,1698.1" stroke="#9467bd"/>
</g>
<rect x="1278" y="1452.1" width="479.2" height="254.5" fill="none" stroke="#000" stroke-width="1.4" stroke-linejoin="miter"/>
<path d="M1278 1706.6v6.1M1397.8 1706.6v6.1M1517.6 1706.6v6.1M1637.4 1706.6v6.1M1757.2 1706.6v6.1M1278 1706.6h-6.1M1278 1664.18h-6.1M1278 1621.77h-6.1M1278 1579.35h-6.1M1278 1536.93h-6.1M1278 1494.52h-6.1M1278 1452.1h-6.1" stroke="#000" stroke-width="1.4" fill="none"/>
<text class="t" x="1278" y="1732.7" text-anchor="middle">1.0</text>
<text class="t" x="1397.8" y="1732.7" text-anchor="middle">1.5</text>
<text class="t" x="1517.6" y="1732.7" text-anchor="middle">2.0</text>
<text class="t" x="1637.4" y="1732.7" text-anchor="middle">2.5</text>
<text class="t" x="1757.2" y="1732.7" text-anchor="middle">3.0</text>
<text class="t" x="1755.6" y="1756" text-anchor="end">1e8</text>
<text class="t" x="1264.4" y="1713.65" text-anchor="end">−1.00</text>
<text class="t" x="1264.4" y="1671.23" text-anchor="end">−0.75</text>
<text class="t" x="1264.4" y="1628.82" text-anchor="end">−0.50</text>
<text class="t" x="1264.4" y="1586.4" text-anchor="end">−0.25</text>
<text class="t" x="1264.4" y="1543.98" text-anchor="end">0.00</text>
<text class="t" x="1264.4" y="1501.57" text-anchor="end">0.25</text>
<text class="t" x="1264.4" y="1459.15" text-anchor="end">0.50</text>
<text class="t" x="1278.5" y="1446.1">1e−10</text>
<rect x="1622.8" y="1563.1" width="15.6" height="13.8" rx="2.9" fill="#fff" fill-opacity="0.8" stroke="#cccccc" stroke-opacity="0.8" stroke-width="1.4"/>
<text class="lt" x="1206.7" y="1438">O</text>
<text class="yl" transform="translate(25.4 1579.35) rotate(-90) scale(1 1.04)" text-anchor="middle">J_B_GLUT2</text>
<g>
<rect x="126.9" y="139.3" width="368.2" height="77.8" rx="3.5" fill="#ffffff" fill-opacity="0.8" stroke="#cccccc" stroke-opacity="0.8" stroke-width="1.4"/>
<line x1="132.5" y1="155.3" x2="168.1" y2="155.3" stroke="#1f77b4" stroke-width="2.45" stroke-linecap="square"/>
<text class="t" x="183.5" y="160.5">G<tspan font-style="italic" font-size="12.1" dy="2.3">L</tspan><tspan dy="-2.3" dx="1.0"> =</tspan><tspan dx="1.6"> 0 mM</tspan></text>
<line x1="132.5" y1="176.4" x2="168.1" y2="176.4" stroke="#ff7f0e" stroke-width="2.45" stroke-linecap="square"/>
<text class="t" x="183.5" y="181.6">G<tspan font-style="italic" font-size="12.1" dy="2.3">L</tspan><tspan dy="-2.3" dx="1.0"> =</tspan><tspan dx="1.6"> 5 mM</tspan></text>
<line x1="132.5" y1="197.6" x2="168.1" y2="197.6" stroke="#2ca02c" stroke-width="2.45" stroke-linecap="square"/>
<text class="t" x="183.5" y="202.7">G<tspan font-style="italic" font-size="12.1" dy="2.3">L</tspan><tspan dy="-2.3" dx="1.0"> =</tspan><tspan dx="1.6"> 10 mM</tspan></text>
<line x1="328.3" y1="155.3" x2="363.9" y2="155.3" stroke="#d62728" stroke-width="2.45" stroke-linecap="square"/>
<text class="t" x="378.5" y="160.5">G<tspan font-style="italic" font-size="12.1" dy="2.3">L</tspan><tspan dy="-2.3" dx="1.0"> =</tspan><tspan dx="1.6"> 20 mM</tspan></text>
<line x1="328.3" y1="176.4" x2="363.9" y2="176.4" stroke="#9467bd" stroke-width="2.45" stroke-linecap="square"/>
<text class="t" x="378.5" y="181.6">G<tspan font-style="italic" font-size="12.1" dy="2.3">L</tspan><tspan dy="-2.3" dx="1.0"> =</tspan><tspan dx="1.6"> 50 mM</tspan></text>
</g>
</svg>
</body></html>
